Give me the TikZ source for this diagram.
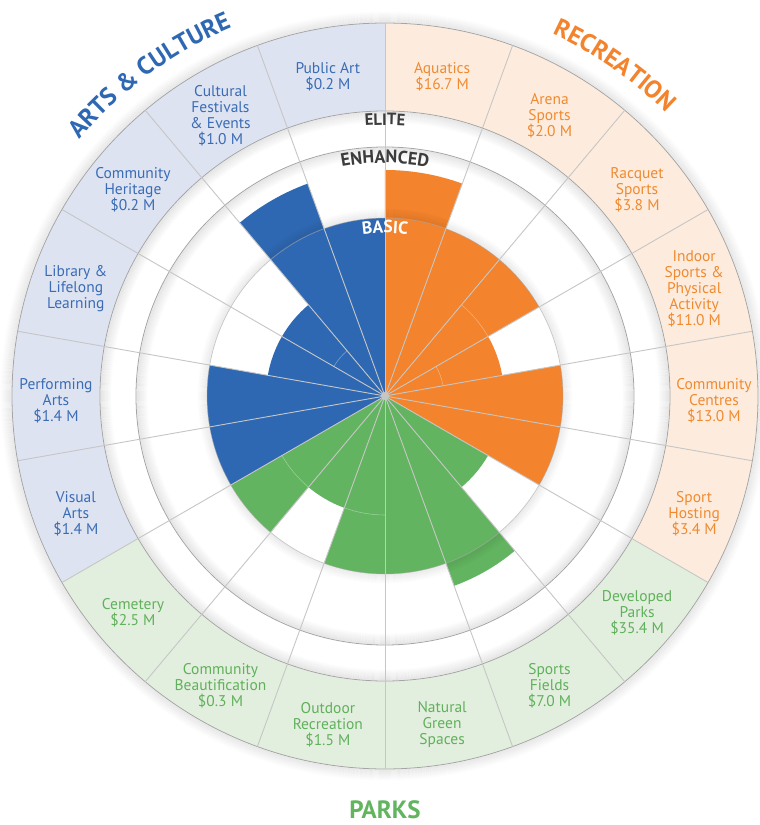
\documentclass[tikz,border=0pt]{standalone}
\usepackage{fontspec}
\setmainfont{PT Sans}
\usepackage{tikz}
\usetikzlibrary{decorations.text}
\usepackage{xcolor}
\definecolor{acblue}{RGB}{47,104,178}
\definecolor{acbluetext}{RGB}{58,108,180}
\definecolor{acbluelight}{RGB}{222,227,242}
\definecolor{recorange}{RGB}{243,131,44}
\definecolor{recorangetext}{RGB}{240,138,48}
\definecolor{recorangelight}{RGB}{253,236,221}
\definecolor{pkgreen}{RGB}{98,180,96}
\definecolor{pkgreentext}{RGB}{96,176,92}
\definecolor{pkgreenlight}{RGB}{227,239,222}
\definecolor{ringgrey}{RGB}{165,165,165}
\definecolor{sepgrey}{RGB}{198,198,198}
\definecolor{ringtext}{RGB}{60,60,60}
\tikzstyle{bandlabel} = [align=center, inner sep=0pt, font=\fontsize{15.5}{16}\selectfont]
\tikzstyle{separator} = [draw=sepgrey, line width=0.9pt]
\tikzstyle{ringline} = [draw=ringgrey, line width=0.8pt]
\tikzstyle{faintarc} = [draw=white, opacity=0.35, line width=0.6pt]
\tikzstyle{title} = [inner sep=0pt, font=\fontsize{25}{25}\selectfont\bfseries]

\begin{document}
\begin{tikzpicture}[x=1pt, y=1pt]
\useasboundingbox (-385,-429) rectangle (375,396);

% Outer shadow
\foreach \k [evaluate=\k as \o using {0.08*(1-\k/12)}] in {1,...,11}
  \draw[black, opacity=\o, line width=1.1pt] (0,0) circle (373+\k);

% Category bands
\fill[recorangelight] (0,0) -- (90:373) arc[start angle=90, end angle=-30, radius=373] -- cycle;
\fill[pkgreenlight] (0,0) -- (-30:373) arc[start angle=-30, end angle=-150, radius=373] -- cycle;
\fill[acbluelight] (0,0) -- (-150:373) arc[start angle=-150, end angle=-270, radius=373] -- cycle;
\fill[white] (0,0) circle (285);

% Ring shadows
\foreach \k [evaluate=\k as \o using {0.09*(1-\k/12)}] in {1,...,11} {
  \draw[black, opacity=\o, line width=1.1pt] (0,0) circle (285-\k);
  \draw[black, opacity=\o, line width=1.1pt] (0,0) circle (249-\k);
}

% Service bars
\foreach \i/\r/\c in {0/226/recorange, 1/178/recorange, 2/178/recorange, 3/119/recorange,
  4/178/recorange, 5/178/recorange, 6/119/pkgreen, 7/202/pkgreen, 8/178/pkgreen,
  9/178/pkgreen, 10/119/pkgreen, 11/178/pkgreen, 12/178/acblue, 13/178/acblue,
  14/119/acblue, 15/119/acblue, 16/226/acblue, 17/178/acblue}
  \fill[\c] (0,0) -- ({90-20*\i}:\r) arc[start angle={90-20*\i}, end angle={70-20*\i}, radius=\r] -- cycle;

% Basic level shadow
\foreach \k [evaluate=\k as \o using {0.07*(1-\k/10)}] in {1,...,9}
  \draw[black, opacity=\o, line width=1.1pt] (0,0) circle (178+\k);

% Faint sub-levels
\foreach \i/\r in {3/59, 15/59, 2/119, 9/119, 11/119}
  \draw[faintarc] ({90-20*\i}:\r) arc[start angle={90-20*\i}, end angle={70-20*\i}, radius=\r];

% Rings
\draw[ringline] (0,0) circle (373);
\draw[ringline] (0,0) circle (285);
\draw[ringline] (0,0) circle (249);
\draw[ringline, opacity=0.6] (0,0) circle (178);

% Separators
\foreach \a in {10,30,...,350}
  \draw[separator] (0,0) -- (\a:373);
\fill[sepgrey] (0,0) circle (4);

% Level names
\path[decorate, decoration={text along path, text color=ringtext, text align=center,
  text={|\fontsize{16.5}{16}\selectfont\bfseries|ELITE}}]
  (115:271) arc[start angle=115, end angle=65, radius=271];
\path[decorate, decoration={text along path, text color=ringtext, text align=center,
  text={|\fontsize{18}{18}\selectfont\bfseries|ENHANCED}}]
  (120:233) arc[start angle=120, end angle=60, radius=233];
\path[decorate, decoration={text along path, text color=white, text align=center,
  text={|\fontsize{17.5}{17}\selectfont\bfseries|BASIC}}]
  (125:163) arc[start angle=125, end angle=55, radius=163];

% Service labels
\foreach \i/\nm/\txt/\c in {
  0/aquatics/{Aquatics\\\$16.7 M}/recorangetext,
  1/arena/{Arena\\Sports\\\$2.0 M}/recorangetext,
  2/racquet/{Racquet\\Sports\\\$3.8 M}/recorangetext,
  3/indoor/{Indoor\\Sports \&\\Physical\\Activity\\\$11.0 M}/recorangetext,
  4/centres/{Community\\Centres\\\$13.0 M}/recorangetext,
  5/hosting/{Sport\\Hosting\\\$3.4 M}/recorangetext,
  6/devparks/{Developed\\Parks\\\$35.4 M}/pkgreentext,
  7/fields/{Sports\\Fields\\\$7.0 M}/pkgreentext,
  8/natural/{Natural\\Green\\Spaces}/pkgreentext,
  9/outdoor/{Outdoor\\Recreation\\\$1.5 M}/pkgreentext,
  10/beautif/{Community\\Beautification\\\$0.3 M}/pkgreentext,
  11/cemetery/{Cemetery\\\$2.5 M}/pkgreentext,
  12/visual/{Visual\\Arts\\\$1.4 M}/acbluetext,
  13/performing/{Performing\\Arts\\\$1.4 M}/acbluetext,
  14/library/{Library \&\\Lifelong\\Learning}/acbluetext,
  15/heritage/{Community\\Heritage\\\$0.2 M}/acbluetext,
  16/festivals/{Cultural\\Festivals\\\& Events\\\$1.0 M}/acbluetext,
  17/publicart/{Public Art\\\$0.2 M}/acbluetext}
  \node[bandlabel, text=\c, yshift=-5pt] (\nm) at ({80-20*\i}:329) {\txt};

% Category titles
\path[decorate, decoration={text along path, text color=acblue, text align=center,
  text={|\fontsize{25}{25}\selectfont\bfseries|ARTS {\&} CULTURE}}]
  (160:399) arc[start angle=160, end angle=92.6, radius=399];
\path[decorate, decoration={text along path, text color=recorange, text align=center,
  text={|\fontsize{25}{25}\selectfont\bfseries|RECREATION}}]
  (90:399) arc[start angle=90, end angle=20.4, radius=399];
\node[title, text=pkgreen] (parks) at (0,-414) {PARKS};
\end{tikzpicture}
\end{document}
